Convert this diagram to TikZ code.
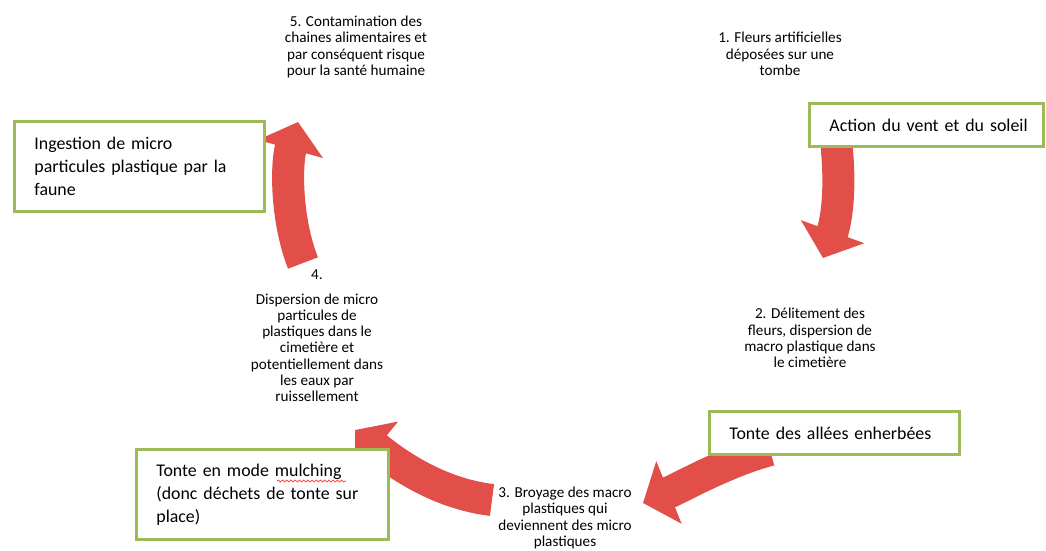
\documentclass[tikz,border=0pt]{standalone}
\usepackage{fontspec}
\setmainfont{Carlito}
\usetikzlibrary{arrows.meta,decorations.pathmorphing}
\definecolor{vertcadre}{RGB}{155,187,89}
\definecolor{rougefleche}{RGB}{226,78,72}
\tikzset{
  boite/.style={draw=vertcadre, line width=2pt, fill=white, anchor=north west,
    align=left, inner xsep=0.5cm, font=\fontsize{12.7}{16.4}\selectfont},
  etape/.style={align=center, font=\fontsize{10.8}{11.6}\selectfont},
  fleche/.style={draw=rougefleche, line width=0.8cm,
    -{Triangle[width=1.65cm, length=0.7cm]}},
  vague/.style={draw=red!80!white, line width=0.5pt,
    decorate, decoration={snake, segment length=3pt, amplitude=0.7pt}}
}
\begin{document}
\begin{tikzpicture}[x=0.025cm, y=-0.025cm]
    \useasboundingbox (0,0) rectangle (1046,551);

    % Etapes du cycle
    \node[etape] (e5) at (356,47) {5. Contamination des\\chaines alimentaires et\\par conséquent risque\\pour la santé humaine};
    \node[etape] (e1) at (780,54) {1. Fleurs artificielles\\déposées sur une\\tombe};
    \node[etape] (e2) at (810,338) {2. Délitement des\\fleurs, dispersion de\\macro plastique dans\\le cimetière};
    \node[etape] (e3) at (565,518) {3. Broyage des macro\\plastiques qui\\deviennent des micro\\plastiques};
    \node[etape] (e4) at (317,336) {4.\\[0.2cm]Dispersion de micro\\particules de\\plastiques dans le\\cimetière et\\potentiellement dans\\les eaux par\\ruissellement};

    % Fleches
    \coordinate (f1a) at (836,140);
    \coordinate (f1b) at (823,258);
    \draw[fleche] (f1a) .. controls (842,195) and (835,225) .. (f1b);

    \coordinate (f2a) at (770,450);
    \coordinate (f2b) at (643,503);
    \draw[fleche] (f2a) .. controls (725,462) and (680,488) .. (f2b);

    \coordinate (f3a) at (492,500);
    \coordinate (f3b) at (355,430);
    \draw[fleche] (f3a) .. controls (450,495) and (410,475) .. (f3b);

    \coordinate (f4a) at (303,263);
    \coordinate (f4b) at (298,122);
    \draw[fleche] (f4a) .. controls (286,220) and (286,165) .. (f4b);

    % Cadres
    \node[boite, minimum width=6.25cm, minimum height=2.25cm, text width=5.25cm] (ingestion) at (13,120) {Ingestion de micro\\particules plastique par la\\faune};
    \node[boite, minimum width=5.85cm, minimum height=1.075cm, text width=4.85cm] (action) at (808,102) {\mbox{Action du vent et du soleil}};
    \node[boite, minimum width=6.25cm, minimum height=1.075cm, text width=5.25cm] (tonte) at (708,410) {Tonte des allées enherbées};
    \node[boite, minimum width=6.3cm, minimum height=2.25cm, text width=5.3cm] (mulching) at (135,448) {Tonte en mode mulching\\(donc déchets de tonte sur\\place)};
    \draw[vague] (277,481) -- (346,481);
\end{tikzpicture}
\end{document}
